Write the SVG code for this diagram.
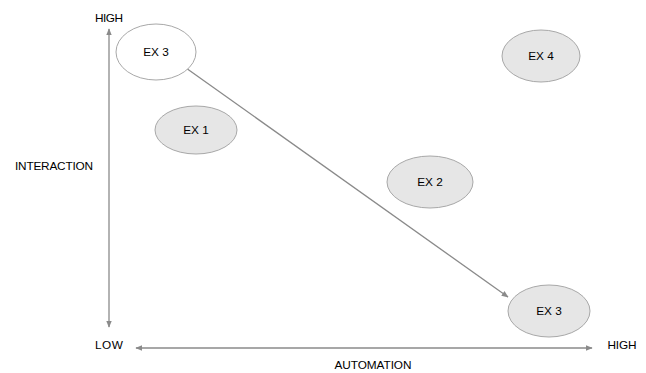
<svg xmlns="http://www.w3.org/2000/svg" width="646" height="373" viewBox="0 0 646 373">
<style>
.t{font-family:"Liberation Sans",Arial,sans-serif;font-size:11.8px;fill:#000;text-anchor:middle;dominant-baseline:central}
.n{fill:#e6e6e6;stroke:#a8a8a8;stroke-width:1}
.l{stroke:#8a8a8a;stroke-width:1.3;fill:none}
</style>
<defs>
<marker id="ah" viewBox="0 0 10 10" refX="9" refY="5" markerWidth="7" markerHeight="7" orient="auto-start-reverse" markerUnits="userSpaceOnUse">
<path d="M0,1 L10,5 L0,9 z" fill="#8a8a8a"/>
</marker>
</defs>
<rect width="646" height="373" fill="#fff"/>
<g id="connectors">
<line class="l" x1="109" y1="29" x2="109" y2="327" marker-start="url(#ah)" marker-end="url(#ah)"/>
<line class="l" x1="136" y1="348" x2="592" y2="348" marker-start="url(#ah)" marker-end="url(#ah)"/>
<line class="l" x1="186" y1="68" x2="508" y2="297" marker-end="url(#ah)"/>
</g>
<g id="labels">
<text class="t" x="109" y="18" textLength="28">HIGH</text>
<text class="t" x="109" y="345" textLength="28">LOW</text>
<text class="t" x="622" y="345" textLength="29">HIGH</text>
<text class="t" x="54" y="166" textLength="78">INTERACTION</text>
<text class="t" x="373" y="365" textLength="77">AUTOMATION</text>
</g>
<g id="ex3top">
<ellipse cx="156" cy="52" rx="40" ry="28" fill="#fff" stroke="#a8a8a8" stroke-width="1"/>
<text class="t" x="156" y="52">EX 3</text>
</g>
<g id="ex1">
<ellipse class="n" cx="196" cy="130" rx="41" ry="24"/>
<text class="t" x="196" y="130">EX 1</text>
</g>
<g id="ex2">
<ellipse class="n" cx="430" cy="182" rx="43" ry="26"/>
<text class="t" x="430" y="182">EX 2</text>
</g>
<g id="ex4">
<ellipse class="n" cx="541" cy="56" rx="39" ry="26"/>
<text class="t" x="541" y="56">EX 4</text>
</g>
<g id="ex3bottom">
<ellipse class="n" cx="549" cy="311" rx="41" ry="26"/>
<text class="t" x="549" y="311">EX 3</text>
</g>
</svg>
